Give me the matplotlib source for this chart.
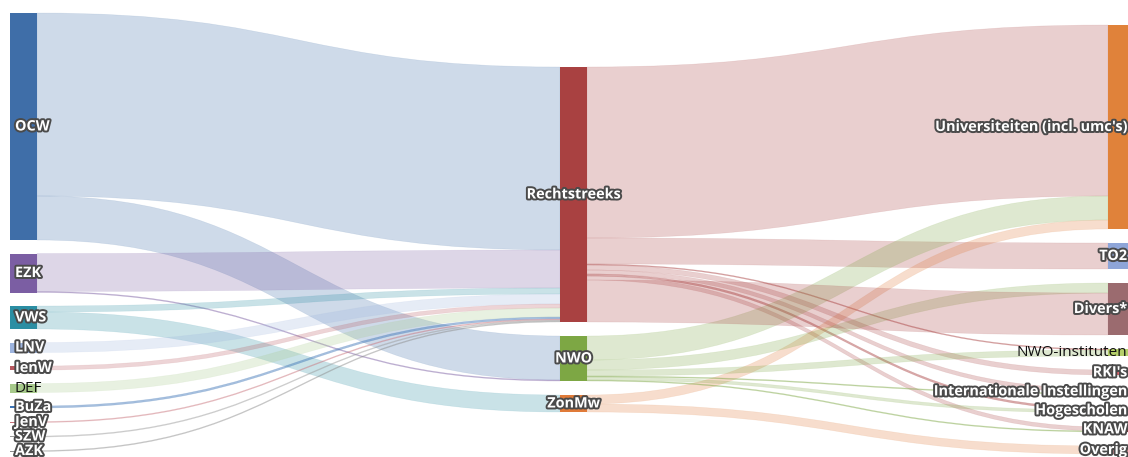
import matplotlib
matplotlib.use("Agg")
import matplotlib.pyplot as plt
from matplotlib.path import Path
from matplotlib.patches import PathPatch, Rectangle
import matplotlib.patheffects as pe
from matplotlib.colors import to_rgb

# ---------------- data ----------------
left_nodes = ["OCW", "EZK", "VWS", "LNV", "IenW", "DEF", "BuZa", "JenV", "SZW", "AZK"]
mid_nodes = ["Rechtstreeks", "NWO", "ZonMw"]
right_nodes = ["Universiteiten (incl. umc's)", "TO2", "Divers*", "NWO-instituten",
               "RKI's", "Internationale Instellingen", "Hogescholen", "KNAW", "Overig"]

node_colors = {
    "OCW": "#3f6ea8", "EZK": "#7b5ea3", "VWS": "#2b8ea3", "LNV": "#9db4de",
    "IenW": "#b8575f", "DEF": "#a6c98a", "BuZa": "#3b73b6", "JenV": "#c9737b",
    "SZW": "#9a9a9a", "AZK": "#8c8c8c",
    "Rechtstreeks": "#a94141", "NWO": "#7da744", "ZonMw": "#e07b39",
    "Universiteiten (incl. umc's)": "#e0823a", "TO2": "#8ea5d8", "Divers*": "#9b6b6f",
    "NWO-instituten": "#b5cf6b", "RKI's": "#d6616b", "Internationale Instellingen": "#7b4173",
    "Hogescholen": "#e7ba52", "KNAW": "#843c39", "Overig": "#e7969c",
}

# links: source, target, value (ordered as stacked in the reference)
link_sources = ["OCW", "OCW", "EZK", "EZK", "VWS", "VWS", "LNV", "IenW", "DEF",
                "BuZa", "JenV", "SZW", "AZK",
                "Rechtstreeks", "Rechtstreeks", "Rechtstreeks", "Rechtstreeks",
                "Rechtstreeks", "Rechtstreeks", "Rechtstreeks",
                "NWO", "ZonMw", "NWO", "Rechtstreeks",
                "NWO", "NWO", "NWO", "NWO", "ZonMw"]
link_targets = ["Rechtstreeks", "NWO", "Rechtstreeks", "NWO", "Rechtstreeks", "ZonMw",
                "Rechtstreeks", "Rechtstreeks", "Rechtstreeks",
                "Rechtstreeks", "Rechtstreeks", "Rechtstreeks", "Rechtstreeks",
                "Universiteiten (incl. umc's)", "TO2", "NWO-instituten", "RKI's",
                "Internationale Instellingen", "Hogescholen", "KNAW",
                "Universiteiten (incl. umc's)", "Universiteiten (incl. umc's)", "Divers*", "Divers*",
                "NWO-instituten", "Internationale Instellingen", "Hogescholen", "KNAW", "Overig"]
link_values = [183, 44, 38, 1, 6, 17, 10, 4, 9,
               2, 1, 1, 1,
               171, 26, 1, 5,
               4, 2, 4,
               24, 9, 10, 42,
               6, 1, 3, 1, 8]

plain_labels = {"NWO-instituten", "DEF"}

# ---------------- layout ----------------
W, H = 1128, 457
fig = plt.figure(figsize=(W / 100, H / 100), dpi=100)
ax = fig.add_axes([0, 0, 1, 1])
ax.set_xlim(0, W)
ax.set_ylim(H, 0)
ax.axis("off")

columns = [left_nodes, mid_nodes, right_nodes]
col_x = [10, 560, 1108]
col_top = [13, 67, 25]
col_pad = [13.5, 14, 14]
node_w = 27
scale = 1.0

inflow, outflow = {}, {}
for s, t, v in zip(link_sources, link_targets, link_values):
    outflow[s] = outflow.get(s, 0) + v
    inflow[t] = inflow.get(t, 0) + v

pos = {}
for ci, col in enumerate(columns):
    y = col_top[ci]
    for n in col:
        h = max(inflow.get(n, 0), outflow.get(n, 0)) * scale
        pos[n] = (col_x[ci], y, h)
        y += h + col_pad[ci]

src_off = {n: 0.0 for n in pos}
tgt_off = {n: 0.0 for n in pos}


def blend(c, a):
    r, g, b = to_rgb(c)
    return (r, g, b, a)


for s, t, v in zip(link_sources, link_targets, link_values):
    sx, sy, _ = pos[s]
    tx, ty, _ = pos[t]
    h = v * scale
    y0 = sy + src_off[s]
    y1 = ty + tgt_off[t]
    src_off[s] += h
    tgt_off[t] += h
    x0 = sx + node_w
    x1 = tx
    xm = (x0 + x1) / 2
    verts = [(x0, y0), (xm, y0), (xm, y1), (x1, y1),
             (x1, y1 + h), (xm, y1 + h), (xm, y0 + h), (x0, y0 + h), (x0, y0)]
    codes = [Path.MOVETO, Path.CURVE4, Path.CURVE4, Path.CURVE4,
             Path.LINETO, Path.CURVE4, Path.CURVE4, Path.CURVE4, Path.CLOSEPOLY]
    alpha = 0.25 if h >= 3 else 0.45
    ax.add_patch(PathPatch(Path(verts, codes), facecolor=blend(node_colors[s], alpha),
                           edgecolor=blend(node_colors[s], alpha * 0.6),
                           linewidth=0.4, zorder=1))

for n, (x, y, h) in pos.items():
    ax.add_patch(Rectangle((x, y), node_w, max(h, 1), facecolor=node_colors[n],
                           edgecolor="none", zorder=2))

halo = [pe.withStroke(linewidth=2.8, foreground="#4a4a4a")]
fs = 10.4
for ci, col in enumerate(columns):
    for n in col:
        x, y, h = pos[n]
        cy = y + h / 2
        if ci == 0:
            tx, ha = x + 5, "left"
        elif ci == 1:
            tx, ha = x + node_w / 2, "center"
        else:
            tx, ha = W - 1, "right"
        if n in plain_labels:
            ax.text(tx, cy, n, ha=ha, va="center", fontsize=fs + 0.6, color="#111111",
                    family="Open Sans", zorder=5)
        else:
            ax.text(tx, cy, n, ha=ha, va="center", fontsize=fs, color="white",
                    family="Open Sans", fontweight="bold", path_effects=halo, zorder=5)

fig.savefig("out.png", dpi=100)
